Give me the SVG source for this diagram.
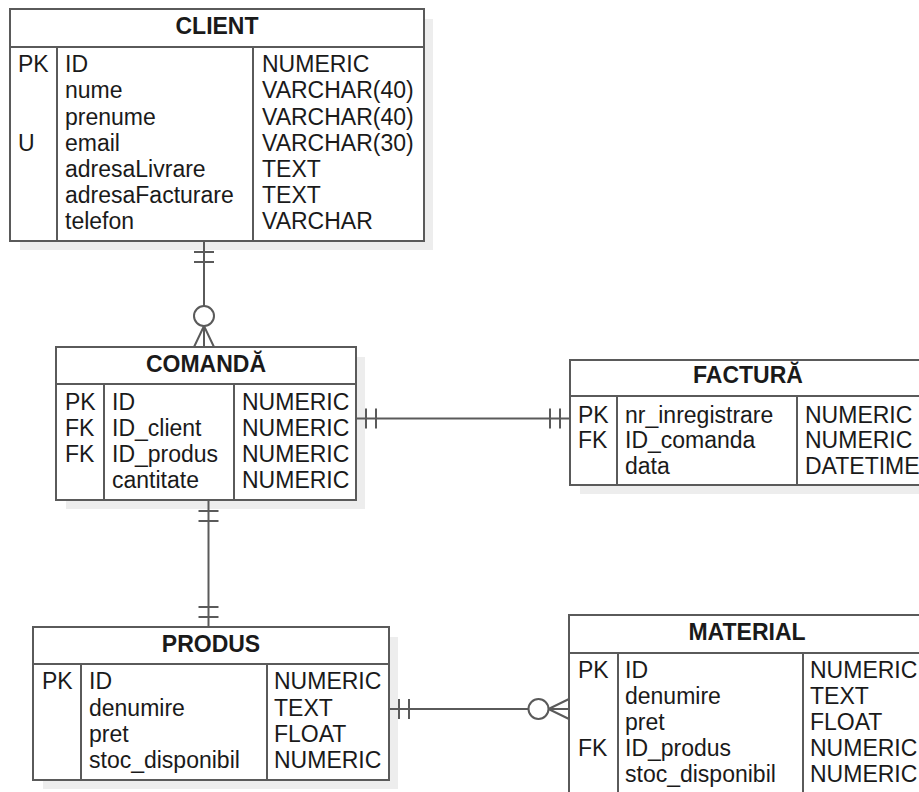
<svg xmlns="http://www.w3.org/2000/svg" width="919" height="792" viewBox="0 0 919 792">
<style>
  .shadow { fill: #ededed; stroke: none; }
  .box { fill: #ffffff; stroke: #5a5a5a; stroke-width: 2; }
  .div { stroke: #5a5a5a; stroke-width: 2; fill: none; }
  .hdr { font-family: "Liberation Sans", Arial, sans-serif; font-size: 23px; font-weight: bold; fill: #1a1a1a; text-anchor: middle; }
  .txt { font-family: "Liberation Sans", Arial, sans-serif; font-size: 23px; fill: #1a1a1a; }
  .conn line, .conn path { stroke: #5a5a5a; stroke-width: 2; fill: none; }
  .conn circle { stroke: #5a5a5a; stroke-width: 2; fill: #ffffff; }
</style>
<rect width="919" height="792" fill="#ffffff"/>

<g id="client">
  <rect class="shadow" x="20" y="19" width="413" height="231"/>
  <rect class="box" x="10" y="9" width="414" height="232"/>
  <line class="div" x1="10" y1="47" x2="424" y2="47"/>
  <line class="div" x1="57" y1="47" x2="57" y2="241"/>
  <line class="div" x1="253" y1="47" x2="253" y2="241"/>
  <text class="hdr" x="217" y="34">CLIENT</text>
  <text class="txt" x="18" y="72.3">PK</text>
  <text class="txt" x="18" y="150.6">U</text>
  <text class="txt" x="65" y="72.3">ID</text>
  <text class="txt" x="65" y="98.4">nume</text>
  <text class="txt" x="65" y="124.5">prenume</text>
  <text class="txt" x="65" y="150.6">email</text>
  <text class="txt" x="65" y="176.7">adresaLivrare</text>
  <text class="txt" x="65" y="202.8">adresaFacturare</text>
  <text class="txt" x="65" y="228.9">telefon</text>
  <text class="txt" x="262" y="72.3">NUMERIC</text>
  <text class="txt" x="262" y="98.4">VARCHAR(40)</text>
  <text class="txt" x="262" y="124.5">VARCHAR(40)</text>
  <text class="txt" x="262" y="150.6">VARCHAR(30)</text>
  <text class="txt" x="262" y="176.7">TEXT</text>
  <text class="txt" x="262" y="202.8">TEXT</text>
  <text class="txt" x="262" y="228.9">VARCHAR</text>
</g>

<g id="comanda">
  <rect class="shadow" x="66" y="357" width="299" height="152"/>
  <rect class="box" x="56" y="347" width="300" height="153"/>
  <line class="div" x1="56" y1="384" x2="356" y2="384"/>
  <line class="div" x1="104" y1="384" x2="104" y2="500"/>
  <line class="div" x1="234" y1="384" x2="234" y2="500"/>
  <text class="hdr" x="206" y="372">COMANDĂ</text>
  <text class="txt" x="65" y="410">PK</text>
  <text class="txt" x="65" y="436">FK</text>
  <text class="txt" x="65" y="462">FK</text>
  <text class="txt" x="112" y="410">ID</text>
  <text class="txt" x="112" y="436">ID_client</text>
  <text class="txt" x="112" y="462">ID_produs</text>
  <text class="txt" x="112" y="487.5">cantitate</text>
  <text class="txt" x="242" y="410">NUMERIC</text>
  <text class="txt" x="242" y="436">NUMERIC</text>
  <text class="txt" x="242" y="462">NUMERIC</text>
  <text class="txt" x="242" y="487.5">NUMERIC</text>
</g>

<g id="factura">
  <rect class="shadow" x="580" y="370" width="355" height="124"/>
  <rect class="box" x="570" y="360" width="356" height="125"/>
  <line class="div" x1="570" y1="396" x2="926" y2="396"/>
  <line class="div" x1="617" y1="396" x2="617" y2="485"/>
  <line class="div" x1="797" y1="396" x2="797" y2="485"/>
  <text class="hdr" x="748" y="383">FACTURĂ</text>
  <text class="txt" x="578" y="422.5">PK</text>
  <text class="txt" x="578" y="448">FK</text>
  <text class="txt" x="625" y="422.5">nr_inregistrare</text>
  <text class="txt" x="625" y="448">ID_comanda</text>
  <text class="txt" x="625" y="473.5">data</text>
  <text class="txt" x="805" y="422.5">NUMERIC</text>
  <text class="txt" x="805" y="448">NUMERIC</text>
  <text class="txt" x="805" y="473.5">DATETIME</text>
</g>

<g id="produs">
  <rect class="shadow" x="43" y="637" width="355" height="152"/>
  <rect class="box" x="33" y="627" width="356" height="153"/>
  <line class="div" x1="33" y1="664" x2="389" y2="664"/>
  <line class="div" x1="81" y1="664" x2="81" y2="780"/>
  <line class="div" x1="267" y1="664" x2="267" y2="780"/>
  <text class="hdr" x="211" y="652">PRODUS</text>
  <text class="txt" x="42" y="689">PK</text>
  <text class="txt" x="89" y="689">ID</text>
  <text class="txt" x="89" y="715.5">denumire</text>
  <text class="txt" x="89" y="741.5">pret</text>
  <text class="txt" x="89" y="767.5">stoc_disponibil</text>
  <text class="txt" x="274" y="689">NUMERIC</text>
  <text class="txt" x="274" y="715.5">TEXT</text>
  <text class="txt" x="274" y="741.5">FLOAT</text>
  <text class="txt" x="274" y="767.5">NUMERIC</text>
</g>

<g id="material">
  <rect class="shadow" x="579" y="625" width="355" height="190"/>
  <rect class="box" x="569" y="615" width="356" height="190"/>
  <line class="div" x1="569" y1="653" x2="925" y2="653"/>
  <line class="div" x1="618" y1="653" x2="618" y2="805"/>
  <line class="div" x1="803" y1="653" x2="803" y2="805"/>
  <text class="hdr" x="747" y="640">MATERIAL</text>
  <text class="txt" x="578" y="678">PK</text>
  <text class="txt" x="578" y="756">FK</text>
  <text class="txt" x="625" y="678">ID</text>
  <text class="txt" x="625" y="704">denumire</text>
  <text class="txt" x="625" y="730">pret</text>
  <text class="txt" x="625" y="756">ID_produs</text>
  <text class="txt" x="625" y="782">stoc_disponibil</text>
  <text class="txt" x="810" y="678">NUMERIC</text>
  <text class="txt" x="810" y="704">TEXT</text>
  <text class="txt" x="810" y="730">FLOAT</text>
  <text class="txt" x="810" y="756">NUMERIC</text>
  <text class="txt" x="810" y="782">NUMERIC</text>
</g>

<g id="connectors" class="conn">
  <!-- CLIENT to COMANDA: one-mandatory to zero-or-many -->
  <g id="client-comanda">
    <line x1="204" y1="242" x2="204" y2="306"/>
    <line x1="194" y1="252" x2="214" y2="252"/>
    <line x1="194" y1="262" x2="214" y2="262"/>
    <circle cx="204" cy="316" r="10"/>
    <path d="M204 326 L194 347 M204 326 L214 347 M204 326 L204 347"/>
  </g>
  <!-- COMANDA to FACTURA: one to one -->
  <g id="comanda-factura">
    <line x1="357" y1="418.5" x2="569" y2="418.5"/>
    <line x1="366" y1="408.5" x2="366" y2="428.5"/>
    <line x1="376" y1="408.5" x2="376" y2="428.5"/>
    <line x1="550" y1="408.5" x2="550" y2="428.5"/>
    <line x1="560" y1="408.5" x2="560" y2="428.5"/>
  </g>
  <!-- COMANDA to PRODUS: one to one -->
  <g id="comanda-produs">
    <line x1="208.5" y1="501" x2="208.5" y2="626"/>
    <line x1="198.5" y1="511" x2="218.5" y2="511"/>
    <line x1="198.5" y1="521" x2="218.5" y2="521"/>
    <line x1="198.5" y1="607" x2="218.5" y2="607"/>
    <line x1="198.5" y1="617" x2="218.5" y2="617"/>
  </g>
  <!-- PRODUS to MATERIAL: one-mandatory to zero-or-many -->
  <g id="produs-material">
    <line x1="390" y1="709" x2="528.5" y2="709"/>
    <line x1="399" y1="699" x2="399" y2="719"/>
    <line x1="409" y1="699" x2="409" y2="719"/>
    <circle cx="538.5" cy="709" r="10"/>
    <path d="M548.5 709 L569 699 M548.5 709 L569 719 M548.5 709 L569 709"/>
  </g>
</g>
</svg>
